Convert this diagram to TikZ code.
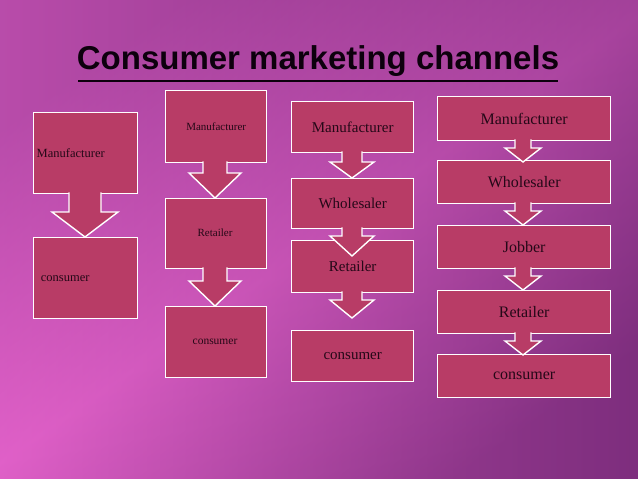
\documentclass[tikz,border=0pt]{standalone}
\usepackage{fontspec}
\setmainfont{Liberation Serif}
\newfontfamily\titlefont{Liberation Sans}
\definecolor{boxc}{HTML}{B83C66}
\definecolor{bgA}{HTML}{E060C8}
\definecolor{bgB}{HTML}{7E2E7E}
\definecolor{txt}{HTML}{250818}
\tikzset{
  bx/.style={draw=white,line width=1.4pt,fill=boxc,text=txt,inner sep=2pt},
  arr/.style={draw=white,line width=1.4pt,fill=boxc,line join=miter}
}
% \barw{cx}{ytop}{headY}{tipY}{shaft half}{head half}
\newcommand\barw[6]{%
  \draw[arr] (#1-#5,#2-0.7) -- (#1-#5,#3) -- (#1-#6,#3) -- (#1,#4) -- (#1+#6,#3) -- (#1+#5,#3) -- (#1+#5,#2-0.7);
  \fill[boxc] (#1-#5+0.7,#2-3) rectangle (#1+#5-0.7,#3-0.7);}
\begin{document}
\begin{tikzpicture}[x=1pt,y=-1pt]
\useasboundingbox (0,0) rectangle (638,479);
\shade[left color=bgA,right color=bgB] (0,0) rectangle (638,479);
\shade[top color=bgB,bottom color=bgB,middle color=bgA,opacity=0.4,shading angle=35] (0,0) rectangle (638,479);
\node[font=\titlefont\bfseries\fontsize{33}{33}\selectfont,text=black!90!violet] (title) at (318,61) {Consumer marketing channels};
\draw[line width=1.8pt,black!90!violet] (78,81) -- (558,81);
% column 1
\node[bx,minimum width=104pt,minimum height=81pt,anchor=north west,font=\fontsize{12.5}{12.5}\selectfont,text width=98pt,align=left] (a1) at (33,112) {Manufacturer};
\node[bx,minimum width=104pt,minimum height=81pt,anchor=north west,font=\fontsize{12.5}{12.5}\selectfont,text width=98pt,align=left] (a2) at (33,237) {\ consumer};
\barw{85}{193}{212}{237}{16}{33}
% column 2
\node[bx,minimum width=101pt,minimum height=72pt,anchor=north west,font=\fontsize{11}{11}\selectfont] (b1) at (165,90) {Manufacturer};
\node[bx,minimum width=101pt,minimum height=70pt,anchor=north west] (b2) at (165,198) {};
\node[font=\fontsize{11}{11}\selectfont,text=txt] (b2t) at (215,233) {Retailer};
\node[bx,minimum width=101pt,minimum height=71pt,anchor=north west] (b3) at (165,306) {};
\node[font=\fontsize{11.5}{11.5}\selectfont,text=txt] (b3t) at (215,342) {consumer};
\barw{215}{162}{173}{198}{12}{26}
\barw{215}{268}{281}{306}{12}{26}
% column 3
\node[bx,minimum width=122pt,minimum height=51pt,anchor=north west,font=\fontsize{15}{15}\selectfont] (c1) at (291,101) {Manufacturer};
\node[bx,minimum width=122pt,minimum height=50pt,anchor=north west,font=\fontsize{15}{15}\selectfont] (c2) at (291,178) {Wholesaler};
\node[bx,minimum width=122pt,minimum height=52pt,anchor=north west,font=\fontsize{15}{15}\selectfont] (c3) at (291,240) {Retailer};
\node[bx,minimum width=122pt,minimum height=51pt,anchor=north west,font=\fontsize{15}{15}\selectfont] (c4) at (291,330) {consumer};
\barw{352}{152}{162}{178}{10}{22}
\barw{352}{228}{236}{256}{10}{22}
\barw{352}{292}{300}{318}{10}{22}
% column 4
\node[bx,minimum width=173pt,minimum height=44pt,anchor=north west,font=\fontsize{16}{16}\selectfont] (d1) at (437,96) {Manufacturer};
\node[bx,minimum width=173pt,minimum height=43pt,anchor=north west,font=\fontsize{16}{16}\selectfont] (d2) at (437,160) {Wholesaler};
\node[bx,minimum width=173pt,minimum height=43pt,anchor=north west,font=\fontsize{16}{16}\selectfont] (d3) at (437,225) {Jobber};
\node[bx,minimum width=173pt,minimum height=43pt,anchor=north west,font=\fontsize{16}{16}\selectfont] (d4) at (437,290) {Retailer};
\node[bx,minimum width=173pt,minimum height=43pt,anchor=north west,font=\fontsize{16}{16}\selectfont] (d5) at (437,354) {consumer};
\barw{523}{140}{148}{162}{8}{18}
\barw{523}{203}{211}{225}{8}{18}
\barw{523}{268}{276}{290}{8}{18}
\barw{523}{333}{341}{355}{8}{18}
\end{tikzpicture}
\end{document}
